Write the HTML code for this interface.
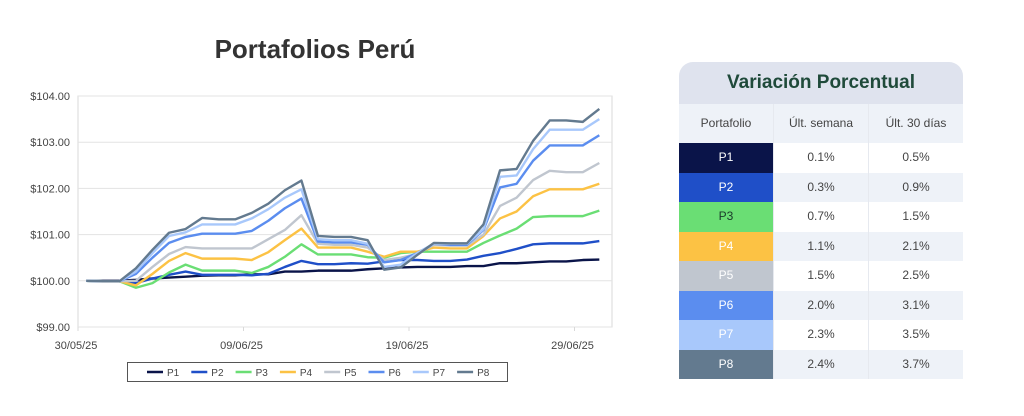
<!DOCTYPE html>
<html><head><meta charset="utf-8"><style>
body{margin:0;width:1024px;height:416px;background:#fff;font-family:"Liberation Sans",sans-serif;position:relative;overflow:hidden}
#title{position:absolute;left:160px;width:310px;top:34px;text-align:center;font-size:26px;font-weight:bold;color:#333}
#tbl{position:absolute;left:679px;top:62px;width:284px;border-radius:14px 14px 0 0;overflow:hidden;background:#fff}
.th{height:42px;background:#dfe3ee;color:#1f4a3a;font-weight:bold;font-size:19px;text-align:center;line-height:42px}
.row{display:flex;height:29.5px;line-height:29.5px;font-size:12px;color:#444;text-align:center}
.row div{flex:1;border-right:1px solid #e6e9ef}
.row div:last-child{border-right:none}
.hdr{height:39px;line-height:39px;background:#eef2f8}
.alt{background:#eef2f8}
</style></head><body>
<div id="title">Portafolios Perú</div>
<svg id="chart" width="640" height="400" style="position:absolute;left:0;top:0"></svg>
<div id="tbl">
<div class="th">Variación Porcentual</div>
<div class="row hdr"><div>Portafolio</div><div>Últ. semana</div><div>Últ. 30 días</div></div>
<div id="rows"></div>
</div>
<script>
const days=['30/05/25','31/05/25','01/06/25','02/06/25','03/06/25','04/06/25','05/06/25','06/06/25','07/06/25','08/06/25','09/06/25','10/06/25','11/06/25','12/06/25','13/06/25','14/06/25','15/06/25','16/06/25','17/06/25','18/06/25','19/06/25','20/06/25','21/06/25','22/06/25','23/06/25','24/06/25','25/06/25','26/06/25','27/06/25','28/06/25','29/06/25','30/06/25'];
const names=['P1','P2','P3','P4','P5','P6','P7','P8'];
const colors=['#0a1449','#1f4fc8','#6ade74','#fcc244','#c0c6cf','#5b8def','#a8c8fb','#637a8f'];
const p1=[100,100,100,100.02,100.05,100.07,100.09,100.11,100.12,100.12,100.14,100.14,100.2,100.2,100.22,100.22,100.22,100.25,100.27,100.29,100.3,100.3,100.3,100.32,100.32,100.38,100.38,100.4,100.42,100.42,100.45,100.46];
const p2=[100,99.99,99.99,99.95,100.05,100.13,100.2,100.13,100.13,100.13,100.12,100.15,100.3,100.43,100.36,100.36,100.38,100.37,100.42,100.45,100.45,100.43,100.43,100.46,100.54,100.6,100.69,100.79,100.81,100.81,100.81,100.86];
const p3=[100,99.99,99.99,99.85,99.95,100.18,100.35,100.22,100.22,100.22,100.17,100.3,100.52,100.79,100.57,100.57,100.57,100.51,100.5,100.6,100.63,100.63,100.63,100.63,100.82,100.98,101.13,101.38,101.4,101.4,101.4,101.52];
const p4=[100,99.99,99.99,99.9,100.15,100.43,100.6,100.48,100.48,100.48,100.45,100.62,100.88,101.13,100.72,100.72,100.72,100.63,100.52,100.63,100.63,100.72,100.7,100.7,100.97,101.35,101.5,101.83,101.98,101.98,101.98,102.1];
const p5=[100,99.99,99.99,100,100.3,100.58,100.73,100.7,100.7,100.7,100.7,100.9,101.1,101.42,100.8,100.78,100.78,100.72,100.45,100.5,100.58,100.78,100.76,100.76,101,101.62,101.8,102.18,102.38,102.35,102.35,102.55];
const p6=[100,99.99,99.99,100.15,100.5,100.82,100.95,101.02,101.02,101.02,101.08,101.3,101.57,101.78,100.85,100.83,100.83,100.78,100.4,100.45,100.6,100.8,100.78,100.78,101.1,102.02,102.1,102.6,102.93,102.93,102.93,103.15];
const p7=[100,99.99,99.99,100.2,100.6,100.97,101.05,101.22,101.22,101.22,101.35,101.55,101.8,101.98,100.9,100.88,100.88,100.8,100.3,100.35,100.6,100.8,100.8,100.8,101.12,102.25,102.28,102.85,103.27,103.27,103.27,103.5];
const p8=[100,99.99,99.99,100.27,100.67,101.04,101.12,101.36,101.33,101.33,101.47,101.67,101.96,102.17,100.97,100.95,100.95,100.88,100.24,100.29,100.56,100.82,100.81,100.81,101.22,102.39,102.42,103.03,103.47,103.47,103.44,103.72];
const series=[p1,p2,p3,p4,p5,p6,p7,p8];
const yTicks=[99,100,101,102,103,104];
const xTickIdx=[0,10,20,30];
const weekChg=['0.1%','0.3%','0.7%','1.1%','1.5%','2.0%','2.3%','2.4%'];
const monthChg=['0.5%','0.9%','1.5%','2.1%','2.5%','3.1%','3.5%','3.7%'];

const NS='http://www.w3.org/2000/svg';
const svg=document.getElementById('chart');
const L=78,R=612,T=96,B=327,step=16.55;
const y=v=>B-(v-99)/5*(B-T);
const xTick=i=>L+i*step;
const x=i=>L+(i+0.5)*step;
function mk(tag,attrs){const e=document.createElementNS(NS,tag);for(const k in attrs)e.setAttribute(k,attrs[k]);svg.appendChild(e);return e;}
const frame=mk('rect',{x:L,y:T,width:R-L,height:B-T,fill:'none',stroke:'#d9d9d9'});


yTicks.forEach(v=>{
  const g=mk('line',{x1:L,x2:R,y1:y(v),y2:y(v),stroke:'#e3e3e3'});
  
  
  const t=mk('text',{x:70,y:y(v)+4,'text-anchor':'end','font-size':11,fill:'#444'});
  t.textContent='$'+v.toFixed(2);
  
  
});
xTickIdx.forEach(i=>{
  mk('line',{x1:xTick(i),x2:xTick(i),y1:B,y2:B+4,stroke:'#d9d9d9'});
  const t=mk('text',{x:xTick(i)-2,y:B+22,'text-anchor':'middle','font-size':11,fill:'#444'});
  t.textContent=days[i];
  
  
});
series.forEach((s,k)=>{
  const p=mk('polyline',{points:s.map((v,i)=>x(i)+','+y(v)).join(' '),fill:'none',stroke:colors[k],'stroke-width':2.4,'stroke-linejoin':'round'});
  
  
});
const lb=mk('rect',{x:127.5,y:362.5,width:380,height:19,fill:'#fff',stroke:'#555'});


names.forEach((n,k)=>{
  const lx=147+k*44.3;
  const l=mk('line',{x1:lx,x2:lx+16,y1:372,y2:372,stroke:colors[k],'stroke-width':2.5});
  
  
  const t=mk('text',{x:lx+20,y:376,'font-size':10,fill:'#444'});
  t.textContent=n;
  
  
});
const rows=document.getElementById('rows');
const txt=['#fff','#fff','#1a3a2a','#fff','#fff','#fff','#fff','#fff'];
names.forEach((n,k)=>{
  const r=document.createElement('div');
  r.className='row'+(k%2?' alt':'');
  
  
  r.innerHTML='<div style="background:'+colors[k]+';color:'+txt[k]+'">'+n+'</div><div>'+weekChg[k]+'</div><div>'+monthChg[k]+'</div>';
  rows.appendChild(r);
});
</script>
</body></html>
